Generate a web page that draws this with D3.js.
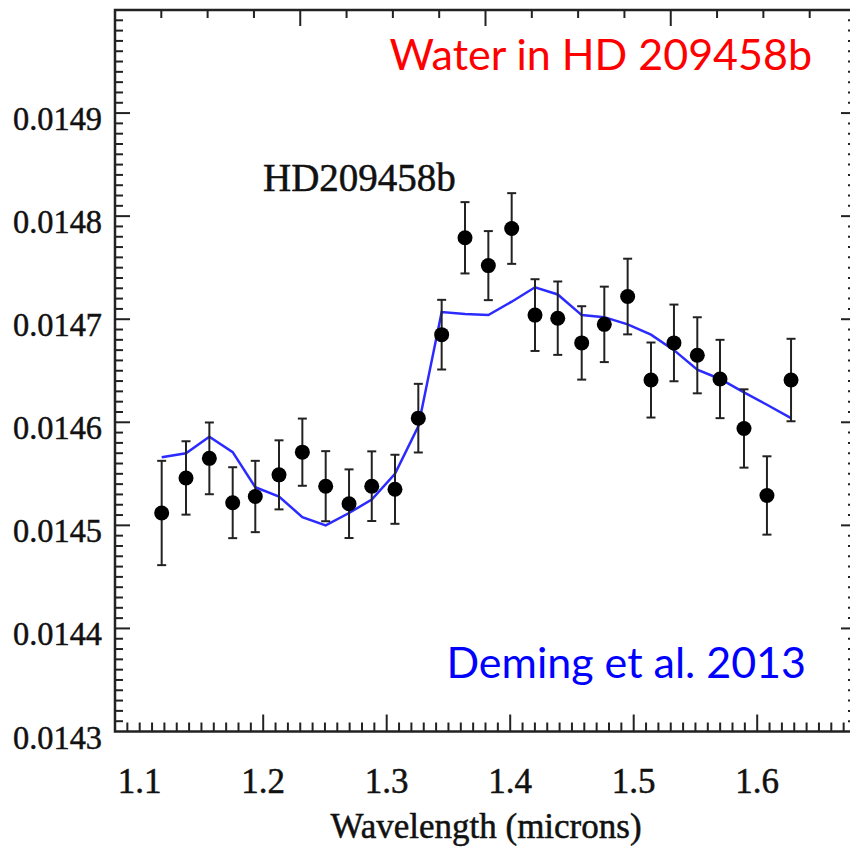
<!DOCTYPE html>
<html>
<head>
<meta charset="utf-8">
<script src="https://cdn.jsdelivr.net/npm/d3@7"></script>
<style>
  body { margin: 0; background: #fff; }
  svg { display: block; }
  .serif { font-family: 'Liberation Serif', 'DejaVu Serif', serif; fill: #111; stroke: #111; stroke-width: 0.5px; }
</style>
</head>
<body>
<svg width="850" height="851"></svg>
<script>
// wavelength of each spectral bin (microns)
var wavelengths = [1.1178, 1.1375, 1.1564, 1.1753, 1.1936, 1.2128, 1.2317, 1.2506, 1.2695, 1.2879,
                   1.3067, 1.3256, 1.3445, 1.3634, 1.3823, 1.4012, 1.4201, 1.4385, 1.4579, 1.4762,
                   1.4951, 1.5140, 1.5326, 1.5515, 1.5699, 1.5893, 1.6079, 1.6274];
// transit depth measured
var depths = [0.014512, 0.014546, 0.014565, 0.014522, 0.014528, 0.014549, 0.014571, 0.014538, 0.014521, 0.014538,
              0.014535, 0.014604, 0.014685, 0.014779, 0.014752, 0.014788, 0.014704, 0.014701, 0.014677, 0.014695,
              0.014722, 0.014641, 0.014677, 0.014665, 0.014642, 0.014594, 0.014529, 0.014641];
// 1 sigma errors
var errors = [0.0000506, 0.0000356, 0.0000348, 0.0000344, 0.0000346, 0.0000335, 0.0000326, 0.0000340, 0.0000333, 0.0000338,
              0.0000335, 0.0000333, 0.0000338, 0.0000346, 0.0000335, 0.0000343, 0.0000348, 0.0000356, 0.0000356, 0.0000366,
              0.0000367, 0.0000364, 0.0000372, 0.0000369, 0.0000380, 0.0000380, 0.0000380, 0.0000400];
// water model
var model = [0.014566, 0.014570, 0.014586, 0.014571, 0.014537, 0.014528, 0.014508, 0.014500, 0.014512, 0.014525,
             0.014550, 0.014596, 0.014707, 0.014705, 0.014704, 0.014717, 0.014731, 0.014724, 0.014704, 0.014702,
             0.014695, 0.014685, 0.014670, 0.014651, 0.014642, 0.014629, 0.014617, 0.014604];

var xTickLabels = [1.1, 1.2, 1.3, 1.4, 1.5, 1.6];
var yTickLabels = [0.0143, 0.0144, 0.0145, 0.0146, 0.0147, 0.0148, 0.0149];

var svg = d3.select("svg"),
    pLeft = 115, pRight = 856, pTop = 10, pBottom = 731.5;

var x = d3.scaleLinear().domain([1.08, 1.68]).range([pLeft, pRight]);
var y = d3.scaleLinear().domain([0.0143, 0.0150]).range([pBottom, pTop]);
// top axis has its own unlabeled even spacing
var xTop = d3.scaleLinear().domain([0, 16]).range([pLeft, pRight]);

var ink = "#222";

// minor tick values
var xMinor = d3.range(109, 168).map(function(d) { return d / 100; });
var yMinor = d3.range(1431, 1500).map(function(d) { return d / 100000; });

function isMajorX(v) { return Math.abs(v * 10 - Math.round(v * 10)) < 1e-6 && v > 1.15; }
function isMajorY(v) { return Math.abs(v * 10000 - Math.round(v * 10000)) < 1e-6; }

var g = svg.append("g");

// bottom ticks
g.selectAll(".bt").data(xMinor).enter().append("line")
  .attr("x1", function(d) { return x(d); }).attr("x2", function(d) { return x(d); })
  .attr("y1", pBottom).attr("y2", function(d) { return pBottom - (isMajorX(d) ? 17 : 9); })
  .attr("stroke", ink).attr("stroke-width", 2);

// top ticks
g.selectAll(".tt").data(d3.range(1, 16)).enter().append("line")
  .attr("x1", function(d) { return xTop(d); }).attr("x2", function(d) { return xTop(d); })
  .attr("y1", pTop).attr("y2", function(d) { return pTop + (d % 4 == 0 ? 16 : 8); })
  .attr("stroke", ink).attr("stroke-width", 2);

// left / right ticks
g.selectAll(".lt").data(yMinor).enter().append("line")
  .attr("y1", function(d) { return y(d); }).attr("y2", function(d) { return y(d); })
  .attr("x1", pLeft).attr("x2", function(d) { return pLeft + (isMajorY(d) ? 15 : 8); })
  .attr("stroke", ink).attr("stroke-width", 2);
g.selectAll(".rt").data(yMinor).enter().append("line")
  .attr("y1", function(d) { return y(d); }).attr("y2", function(d) { return y(d); })
  .attr("x1", pRight).attr("x2", function(d) { return pRight - (isMajorY(d) ? 15 : 8); })
  .attr("stroke", ink).attr("stroke-width", 2);

// frame
g.append("rect").attr("x", pLeft).attr("y", pTop)
  .attr("width", pRight - pLeft).attr("height", pBottom - pTop)
  .attr("fill", "none").attr("stroke", ink).attr("stroke-width", 2.5);

// tick labels
g.selectAll(".yl").data(yTickLabels).enter().append("text")
  .attr("class", "serif")
  .attr("x", 102).attr("y", function(d) { return y(d) + 17; })
  .attr("text-anchor", "end")
  .style("font-size", "34px")
  .attr("textLength", 89).attr("lengthAdjust", "spacingAndGlyphs")
  .text(function(d) { return d3.format(".4f")(d); });

g.selectAll(".xl").data(xTickLabels).enter().append("text")
  .attr("class", "serif")
  .attr("x", function(d) { return x(d); }).attr("y", 793)
  .attr("text-anchor", "middle")
  .style("font-size", "35px")
  .text(function(d) { return d3.format(".1f")(d); });

g.append("text").attr("class", "serif")
  .attr("x", 486).attr("y", 838)
  .attr("text-anchor", "middle")
  .style("font-size", "35px")
  .text("Wavelength (microns)");

// model line
var line = d3.line()
  .x(function(d, i) { return x(wavelengths[i]); })
  .y(function(d) { return y(d); });
g.append("path").datum(model)
  .attr("d", line).attr("fill", "none")
  .attr("stroke", "#2b2bff").attr("stroke-width", 2.5);

// data with error bars
var pts = wavelengths.map(function(w, i) { return { w: w, v: depths[i], e: errors[i] }; });
var eb = g.selectAll(".eb").data(pts).enter().append("g");
eb.append("line")
  .attr("x1", function(d) { return x(d.w); }).attr("x2", function(d) { return x(d.w); })
  .attr("y1", function(d) { return y(d.v - d.e); }).attr("y2", function(d) { return y(d.v + d.e); })
  .attr("stroke", ink).attr("stroke-width", 2);
eb.append("line")
  .attr("x1", function(d) { return x(d.w) - 4.5; }).attr("x2", function(d) { return x(d.w) + 4.5; })
  .attr("y1", function(d) { return y(d.v + d.e); }).attr("y2", function(d) { return y(d.v + d.e); })
  .attr("stroke", ink).attr("stroke-width", 2);
eb.append("line")
  .attr("x1", function(d) { return x(d.w) - 4.5; }).attr("x2", function(d) { return x(d.w) + 4.5; })
  .attr("y1", function(d) { return y(d.v - d.e); }).attr("y2", function(d) { return y(d.v - d.e); })
  .attr("stroke", ink).attr("stroke-width", 2);
eb.append("circle")
  .attr("cx", function(d) { return x(d.w); }).attr("cy", function(d) { return y(d.v); })
  .attr("r", 7.5).attr("fill", "#000");

// annotations
g.append("text").attr("class", "serif")
  .attr("x", 263).attr("y", 191)
  .style("font-size", "39px")
  .text("HD209458b");

g.append("text").attr("x", 812).attr("y", 70)
  .attr("text-anchor", "end")
  .style("font-family", "Lato, 'Open Sans', sans-serif")
  .style("font-size", "43px").attr("fill", "#ff0000")
  .text("Water in HD 209458b");

g.append("text").attr("x", 806).attr("y", 678)
  .attr("text-anchor", "end")
  .style("font-family", "Lato, 'Open Sans', sans-serif")
  .style("font-size", "43px").attr("fill", "#0000ff")
  .text("Deming et al. 2013");
</script>
</body>
</html>
